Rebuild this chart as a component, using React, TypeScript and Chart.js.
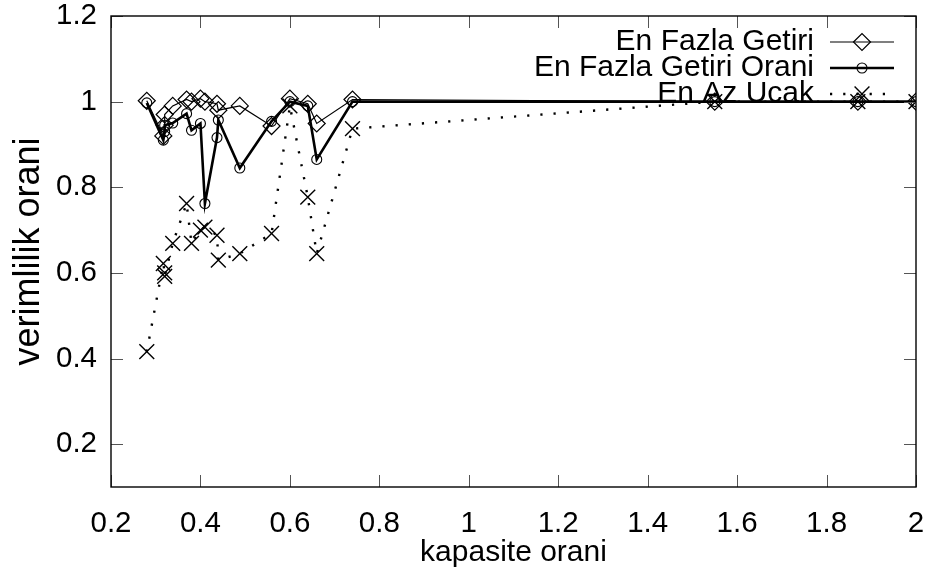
import React, { useEffect, useRef } from 'react';
import { Chart, registerables } from 'chart.js';

Chart.register(...registerables);

// ---- data ----
const capacityRatio = [0.28, 0.317, 0.32, 0.32, 0.338, 0.369, 0.38, 0.40, 0.41, 0.437, 0.44, 0.488, 0.559, 0.60, 0.64, 0.66, 0.74, 1.55, 1.87, 2.0];
const enFazlaGetiri = [1.002, 0.92, 0.945, 0.97, 0.99, 1.005, 1.0, 1.007, 1.0, 0.995, 0.98, 0.99, 0.943, 1.007, 0.995, 0.949, 1.005, 1.0, 1.0, 1.0];
const enFazlaGetiriOrani = [0.997, 0.91, 0.93, 0.945, 0.95, 0.972, 0.933, 0.949, 0.762, 0.916, 0.957, 0.845, 0.954, 1.0, 0.99, 0.865, 1.0, 1.0, 1.0, 1.0];
const enAzUcak = [0.416, 0.622, 0.6, 0.592, 0.669, 0.762, 0.669, 0.70, 0.707, 0.688, 0.63, 0.645, 0.692, 0.99, 0.777, 0.645, 0.937, 1.0, 1.0, 1.0];

const seriesLabels = ['En Fazla Getiri', 'En Fazla Getiri Orani', 'En Az Ucak'];

const xTickValues = [0.2, 0.4, 0.6, 0.8, 1.0, 1.2, 1.4, 1.6, 1.8, 2.0];
const xTickLabels = ['0.2', '0.4', '0.6', '0.8', '1', '1.2', '1.4', '1.6', '1.8', '2'];
const yTickValues = [0.2, 0.4, 0.6, 0.8, 1.0, 1.2];
const yTickLabels = ['0.2', '0.4', '0.6', '0.8', '1', '1.2'];

const xTitle = 'kapasite orani';
const yTitle = 'verimlilik orani';

const FONT = "'Liberation Sans', Arial, Helvetica, sans-serif";

function toPoints(ys: number[]) {
  return capacityRatio.map((x, i) => ({ x, y: ys[i] }));
}

function drawMarker(ctx: CanvasRenderingContext2D, style: string, x: number, y: number, r: number) {
  ctx.beginPath();
  if (style === 'rectRot') {
    ctx.moveTo(x - r, y);
    ctx.lineTo(x, y - r);
    ctx.lineTo(x + r, y);
    ctx.lineTo(x, y + r);
    ctx.closePath();
  } else if (style === 'circle') {
    ctx.arc(x, y, r, 0, Math.PI * 2);
  } else if (style === 'crossRot') {
    const d = r * Math.SQRT1_2;
    ctx.moveTo(x - d, y - d);
    ctx.lineTo(x + d, y + d);
    ctx.moveTo(x + d, y - d);
    ctx.lineTo(x - d, y + d);
  }
  ctx.stroke();
}

const framePlugin = {
  id: 'gnuFrame',
  afterDatasetsDraw(chart: any) {
    const { ctx, chartArea: a, scales } = chart;
    const xs = scales.x;
    const ys = scales.y;
    const tl = 12;
    ctx.save();
    ctx.setLineDash([]);
    ctx.strokeStyle = '#555';
    ctx.lineWidth = 1;
    ctx.beginPath();
    xs.ticks.forEach((t: any) => {
      const px = Math.round(xs.getPixelForValue(t.value)) + 0.5;
      ctx.moveTo(px, a.bottom);
      ctx.lineTo(px, a.bottom - tl);
      ctx.moveTo(px, a.top);
      ctx.lineTo(px, a.top + tl);
    });
    ys.ticks.forEach((t: any) => {
      const py = Math.round(ys.getPixelForValue(t.value)) + 0.5;
      ctx.moveTo(a.left, py);
      ctx.lineTo(a.left + tl, py);
      ctx.moveTo(a.right, py);
      ctx.lineTo(a.right - tl, py);
    });
    ctx.stroke();
    ctx.strokeStyle = '#000';
    ctx.lineWidth = 1.4;
    ctx.strokeRect(a.left, a.top, a.right - a.left, a.bottom - a.top);
    ctx.restore();
  },
};

const keyPlugin = {
  id: 'gnuKey',
  afterDraw(chart: any, _args: any, opts: any) {
    const { ctx } = chart;
    ctx.save();
    ctx.font = `${opts.fontSize}px ${FONT}`;
    ctx.fillStyle = '#000';
    ctx.textAlign = 'right';
    ctx.textBaseline = 'middle';
    chart.data.datasets.forEach((ds: any, i: number) => {
      const y = opts.top + i * opts.rowGap;
      ctx.fillText(ds.label, opts.textRight, y);
      ctx.strokeStyle = '#000';
      ctx.lineWidth = ds.borderWidth;
      ctx.setLineDash(ds.borderDash || []);
      ctx.beginPath();
      ctx.moveTo(opts.sampleLeft, y);
      ctx.lineTo(opts.sampleRight, y);
      ctx.stroke();
      ctx.setLineDash([]);
      ctx.lineWidth = ds.pointBorderWidth;
      drawMarker(ctx, ds.pointStyle, (opts.sampleLeft + opts.sampleRight) / 2, y, ds.pointRadius);
    });
    ctx.restore();
  },
};

export default function App() {
  const ref = useRef<HTMLCanvasElement>(null);

  useEffect(() => {
    const canvas = ref.current;
    if (!canvas) return;
    const chart = new Chart(canvas, {
      type: 'scatter',
      data: {
        datasets: [
          {
            label: seriesLabels[0],
            data: toPoints(enFazlaGetiri),
            showLine: true,
            borderColor: '#000',
            borderWidth: 1.2,
            pointStyle: 'rectRot',
            pointRadius: 8.5,
            pointBorderWidth: 1.2,
            pointBorderColor: '#000',
            pointBackgroundColor: 'rgba(0,0,0,0)',
            tension: 0,
          },
          {
            label: seriesLabels[1],
            data: toPoints(enFazlaGetiriOrani),
            showLine: true,
            borderColor: '#000',
            borderWidth: 2.6,
            pointStyle: 'circle',
            pointRadius: 5,
            pointBorderWidth: 1.1,
            pointBorderColor: '#000',
            pointBackgroundColor: 'rgba(0,0,0,0)',
            tension: 0,
          },
          {
            label: seriesLabels[2],
            data: toPoints(enAzUcak),
            showLine: true,
            borderColor: '#000',
            borderWidth: 2.4,
            borderDash: [2.2, 11],
            pointStyle: 'crossRot',
            pointRadius: 10.5,
            pointBorderWidth: 1.4,
            pointBorderColor: '#000',
            pointBackgroundColor: 'rgba(0,0,0,0)',
            tension: 0,
          },
        ] as any,
      },
      options: {
        animation: false,
        responsive: false,
        events: [],
        layout: { padding: { top: 16, right: 17, left: 0, bottom: 0 } },
        scales: {
          x: {
            type: 'linear',
            min: 0.2,
            max: 2.0,
            grid: { display: false, drawTicks: false },
            border: { display: false },
            afterBuildTicks: (s: any) => {
              s.ticks = xTickValues.map((v) => ({ value: v }));
            },
            afterFit: (s: any) => {
              s.height = 87;
              s.paddingLeft = 0;
              s.paddingRight = 0;
            },
            ticks: {
              autoSkip: false,
              maxRotation: 0,
              padding: 19,
              color: '#000',
              font: { family: FONT, size: 29.5, lineHeight: 1.2 },
              callback: (_v: any, i: number) => xTickLabels[i],
            },
            title: {
              display: true,
              text: xTitle,
              color: '#000',
              font: { family: FONT, size: 30, lineHeight: 1.2 },
              padding: { top: 0, bottom: 3 },
            },
          },
          y: {
            type: 'linear',
            min: 0.1,
            max: 1.2,
            grid: { display: false, drawTicks: false },
            border: { display: false },
            afterBuildTicks: (s: any) => {
              s.ticks = yTickValues.map((v) => ({ value: v }));
            },
            afterFit: (s: any) => {
              s.width = 111;
              s.paddingTop = 0;
              s.paddingBottom = 0;
            },
            ticks: {
              padding: 14,
              color: '#000',
              font: { family: FONT, size: 29.5, lineHeight: 1.0 },
              callback: (_v: any, i: number) => yTickLabels[i],
            },
            title: {
              display: true,
              text: yTitle,
              color: '#000',
              font: { family: FONT, size: 36, lineHeight: 1.2 },
              padding: { top: 7, bottom: 0 },
            },
          },
        },
        plugins: {
          legend: { display: false },
          tooltip: { enabled: false },
          gnuKey: {
            fontSize: 30,
            top: 42,
            rowGap: 26,
            textRight: 814,
            sampleLeft: 830,
            sampleRight: 894,
          },
        } as any,
      },
      plugins: [framePlugin, keyPlugin],
    });
    return () => chart.destroy();
  }, []);

  return (
    <div style={{ position: 'fixed', left: 0, top: 0, width: 933, height: 574, background: '#fff' }}>
      <canvas ref={ref} width={933} height={574} style={{ display: 'block', width: 933, height: 574 }} />
    </div>
  );
}
